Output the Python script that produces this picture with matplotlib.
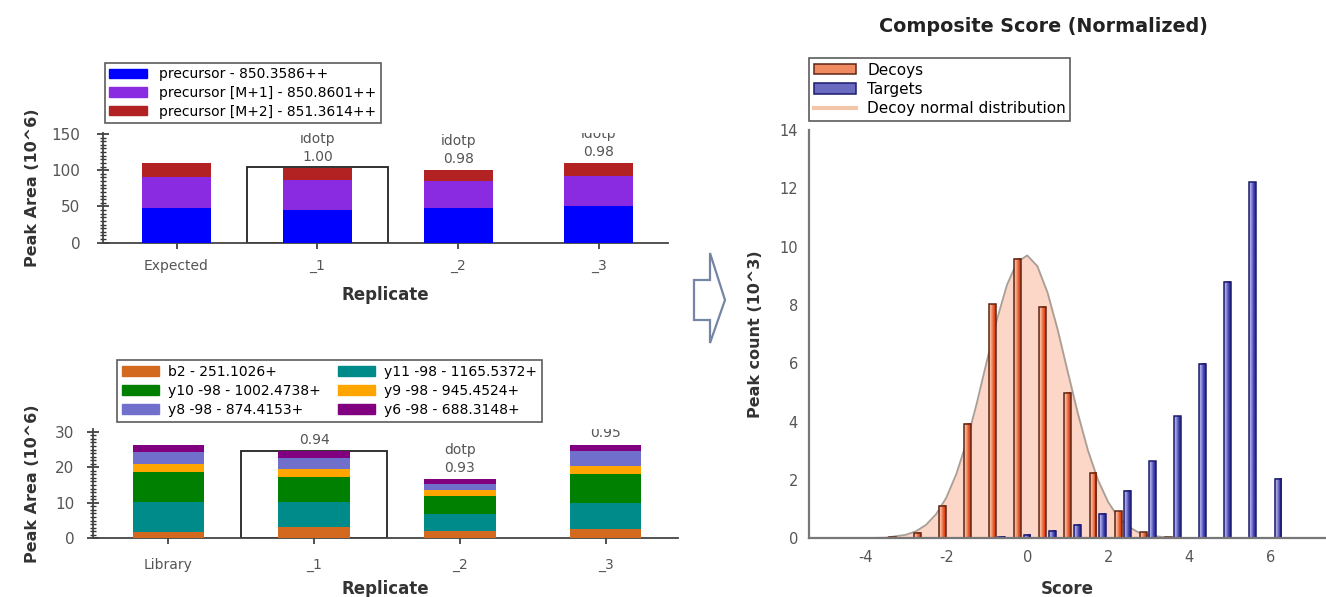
import matplotlib
matplotlib.use("Agg")
import matplotlib.pyplot as plt
from matplotlib.patches import Patch, Polygon
from matplotlib.lines import Line2D
from matplotlib.ticker import MultipleLocator
from matplotlib.colors import LinearSegmentedColormap

plt.rcParams["axes.unicode_minus"] = False

W, H = 1326, 597

# --- precursor isotope peak areas (10^6) ---
prec_cats = ["Expected", "_1", "_2", "_3"]
prec_mono = [47.5, 44.7, 47.5, 50.6]
prec_m1 = [43.5, 41.3, 38.0, 41.4]
prec_m2 = [19.0, 17.0, 14.8, 18.0]
prec_labels = ["precursor - 850.3586++", "precursor [M+1] - 850.8601++",
               "precursor [M+2] - 851.3614++"]
prec_idotp = ["", "1.00", "0.98", "0.98"]
prec_box = 104  # outline around selected replicate _1

# --- fragment peak areas (10^6) ---
frag_cats = ["Library", "_1", "_2", "_3"]
frag_b2 = [1.7, 3.2, 2.05, 2.5]
frag_y11 = [8.6, 7.0, 4.7, 7.5]
frag_y10 = [8.5, 7.1, 5.05, 8.0]
frag_y9 = [2.0, 2.2, 1.8, 2.3]
frag_y8 = [3.6, 3.2, 1.7, 4.2]
frag_y6 = [2.0, 1.8, 1.3, 1.9]
frag_dotp = ["", "0.94", "0.93", "0.95"]
frag_box = 24.6

# --- composite score histogram (10^3) ---
score_bins = [-4.46, -3.84, -3.22, -2.60, -1.98, -1.36, -0.74, -0.12, 0.50,
              1.12, 1.74, 2.36, 2.98, 3.60, 4.22, 4.84, 5.46, 6.08]
decoys = [0.01, 0.0, 0.03, 0.18, 1.12, 3.93, 8.02, 9.57, 7.94,
          4.99, 2.23, 0.92, 0.20, 0.03, 0.0, 0.0, 0.0, 0.0]
targets = [0.0, 0.0, 0.0, 0.0, 0.0, 0.0, 0.04, 0.11, 0.26,
           0.46, 0.84, 1.62, 2.64, 4.18, 5.97, 8.78, 12.2, 2.04]
norm_x = [-5.0, -4.5, -4.0, -3.5, -3.0, -2.75, -2.5, -2.25, -2.0, -1.75, -1.5,
          -1.25, -1.0, -0.75, -0.5, -0.25, 0.0, 0.25, 0.5, 0.75, 1.0, 1.25,
          1.5, 1.75, 2.0, 2.25, 2.5, 2.75, 3.0, 3.5, 4.0]
norm_y = [0.0, 0.0, 0.01, 0.02, 0.12, 0.24, 0.46, 0.83, 1.39, 2.21, 3.29,
          4.61, 6.06, 7.49, 8.69, 9.47, 9.70, 9.33, 8.43, 7.16, 5.71, 4.28,
          3.01, 1.99, 1.24, 0.72, 0.40, 0.20, 0.10, 0.02, 0.0]


def px_axes(x0, y0, x1, y1):
    # pixel box (left, top, right, bottom) -> figure axes
    return fig.add_axes([x0 / W, 1 - y1 / H, (x1 - x0) / W, (y1 - y0) / H])


def style_left(ax, minor, ypad, xpad):
    for s in ["top", "right"]:
        ax.spines[s].set_visible(False)
    for s in ["left", "bottom"]:
        ax.spines[s].set_color("#444444")
        ax.spines[s].set_linewidth(1.3)
    ax.yaxis.set_minor_locator(MultipleLocator(minor))
    ax.tick_params(axis="y", which="major", direction="inout", length=9,
                   width=1.2, color="#333333", labelcolor="#555555",
                   labelsize=11, pad=ypad)
    ax.tick_params(axis="y", which="minor", direction="inout", length=5,
                   width=1.0, color="#333333")
    ax.tick_params(axis="x", direction="inout", length=8, width=1.2,
                   color="#333333", labelcolor="#555555", labelsize=10,
                   pad=xpad)


def stacked(ax, series, colors):
    bottom = [0] * len(series[0])
    for vals, c in zip(series, colors):
        ax.bar(range(len(vals)), vals, 0.49, bottom=bottom, color=c, zorder=3)
        bottom = [b + v for b, v in zip(bottom, vals)]
    return bottom


def annot(ax, tops, texts, word):
    for i, (t, s) in enumerate(zip(tops, texts)):
        if not s:
            continue
        ax.annotate(word + "\n" + s, (i, t), xytext=(0, 3),
                    textcoords="offset points", ha="center", va="bottom",
                    fontsize=10, color="#555555", linespacing=1.35,
                    annotation_clip=False, clip_on=True)


def legend_box(ax, handles, labels, x, y, **kw):
    leg = ax.legend(handles, labels, loc="lower left",
                    bbox_to_anchor=(x / W, 1 - y / H),
                    bbox_transform=fig.transFigure, frameon=True,
                    fancybox=False, edgecolor="#333333", handleheight=0.65,
                    borderaxespad=0, **kw)
    leg.get_frame().set_linewidth(1.2)
    return leg


def gradient_bars(ax, bars, c0, c1):
    cmap = LinearSegmentedColormap.from_list("g", [c0, c1])
    for b in bars:
        x, y = b.get_xy()
        w, h = b.get_width(), b.get_height()
        if h <= 0:
            continue
        ax.imshow([[0.0, 1.0]], cmap=cmap, extent=[x, x + w, y, y + h],
                  aspect="auto", interpolation="bilinear", zorder=2)


fig = plt.figure(figsize=(W / 100, H / 100), dpi=100)

# ---------------- top left ----------------
ax1 = px_axes(103.3, 132.5, 668, 242.7)
prec_colors = ["#0000FF", "#8A2BE2", "#B22222"]
ax1.bar(1, prec_box, 1.0, color="white", edgecolor="#222222", lw=1.3, zorder=2)
tops1 = stacked(ax1, [prec_mono, prec_m1, prec_m2], prec_colors)
annot(ax1, tops1, prec_idotp, "idotp")
ax1.set_xlim(-0.52, 3.49)
ax1.set_ylim(0, 152)
ax1.set_yticks([0, 50, 100, 150])
ax1.set_xticks(range(len(prec_cats)))
ax1.set_xticklabels(prec_cats)
style_left(ax1, 5, 12, 7.5)
legend_box(ax1, [Patch(color=c) for c in prec_colors], prec_labels, 105, 122.7,
           fontsize=10, handlelength=2.75, labelspacing=0.33, borderpad=0.3,
           handletextpad=0.85)

# ---------------- bottom left ----------------
ax2 = px_axes(93.3, 428.9, 678, 538.3)
frag_colors = ["#D2691E", "#008B8B", "#008000", "#FFA500", "#7070CC", "#800080"]
frag_labels = ["b2 - 251.1026+", "y11 -98 - 1165.5372+", "y10 -98 - 1002.4738+",
               "y9 -98 - 945.4524+", "y8 -98 - 874.4153+", "y6 -98 - 688.3148+"]
ax2.bar(1, frag_box, 1.0, color="white", edgecolor="#222222", lw=1.3, zorder=2)
tops2 = stacked(ax2, [frag_b2, frag_y11, frag_y10, frag_y9, frag_y8, frag_y6],
                frag_colors)
annot(ax2, tops2, frag_dotp, "dotp")
ax2.set_xlim(-0.514, 3.496)
ax2.set_ylim(0, 30.8)
ax2.set_yticks([0, 10, 20, 30])
ax2.set_xticks(range(len(frag_cats)))
ax2.set_xticklabels(frag_cats)
style_left(ax2, 1, 9, 10.5)
# column-wise fill: b2, y10, y8 | y11, y9, y6
order = [0, 2, 4, 1, 3, 5]
legend_box(ax2, [Patch(color=frag_colors[i]) for i in order],
           [frag_labels[i] for i in order], 117, 421.7, ncol=2, fontsize=10,
           handlelength=2.65, labelspacing=0.36, borderpad=0.35,
           handletextpad=0.7, columnspacing=1.2)

for yc, yl in [(187.6, 295), (483.6, 589)]:
    fig.text(33 / W, 1 - yc / H, "Peak Area (10^6)", rotation=90, ha="center",
             va="center", fontsize=11.5, fontweight="bold", color="#333333")
    fig.text(385.7 / W, 1 - yl / H, "Replicate", ha="center", va="center",
             fontsize=12, fontweight="bold", color="#333333")

# ---------------- arrow ----------------
arrow_px = [(694, 280), (710, 280), (710, 253), (725, 300), (710, 343),
            (710, 320), (694, 320)]
fig.patches.append(Polygon([(x / W, 1 - y / H) for x, y in arrow_px],
                           closed=True, fill=False, edgecolor="#7585A5",
                           lw=1.6, transform=fig.transFigure))

# ---------------- right: composite score ----------------
ax3 = px_axes(809, 130, 1326, 538.3)
ax3.fill_between(norm_x, norm_y, color="#FCD6C6", zorder=1)
ax3.plot(norm_x, norm_y, color="#A89F98", lw=1.3, zorder=1.5)
dbars = ax3.bar([b - 0.115 for b in score_bins], decoys, 0.17,
                facecolor="none", edgecolor="#5E2616", lw=1.1, zorder=2.5)
tbars = ax3.bar([b + 0.115 for b in score_bins], targets, 0.17,
                facecolor="none", edgecolor="#1B1B6E", lw=1.1, zorder=2.5)
gradient_bars(ax3, dbars, "#F9B494", "#E2481A")
gradient_bars(ax3, tbars, "#A6A6E6", "#3434A4")
ax3.set_xlim(-5.39, 7.38)
ax3.set_ylim(0, 14)
ax3.set_xticks([-4, -2, 0, 2, 4, 6])
ax3.set_yticks(range(0, 15, 2))
for s in ["top", "right"]:
    ax3.spines[s].set_visible(False)
for s in ["left", "bottom"]:
    ax3.spines[s].set_color("#777777")
    ax3.spines[s].set_linewidth(1.6)
    ax3.spines[s].set_zorder(3)
ax3.tick_params(length=0, labelcolor="#555555", labelsize=10.5)
ax3.tick_params(axis="x", pad=8.5)
ax3.tick_params(axis="y", pad=8)
legend_box(ax3, [Patch(facecolor="#F08A60", edgecolor="#5E2616", lw=1.1),
                 Patch(facecolor="#6A6AC0", edgecolor="#1B1B6E", lw=1.1),
                 Line2D([], [], color="#F3C6AA", lw=3)],
           ["Decoys", "Targets", "Decoy normal distribution"], 809, 120.7,
           fontsize=11, handlelength=2.75, labelspacing=0.28, borderpad=0.3,
           handletextpad=0.75)
fig.text(1043 / W, 1 - 27 / H, "Composite Score (Normalized)", ha="center",
         va="center", fontsize=13.8, fontweight="bold", color="#222222")
fig.text(755 / W, 1 - 334 / H, "Peak count (10^3)", rotation=90, ha="center",
         va="center", fontsize=11.5, fontweight="bold", color="#333333")
fig.text(1067 / W, 1 - 589 / H, "Score", ha="center", va="center",
         fontsize=12, fontweight="bold", color="#333333")

fig.savefig("out.png", dpi=100)
